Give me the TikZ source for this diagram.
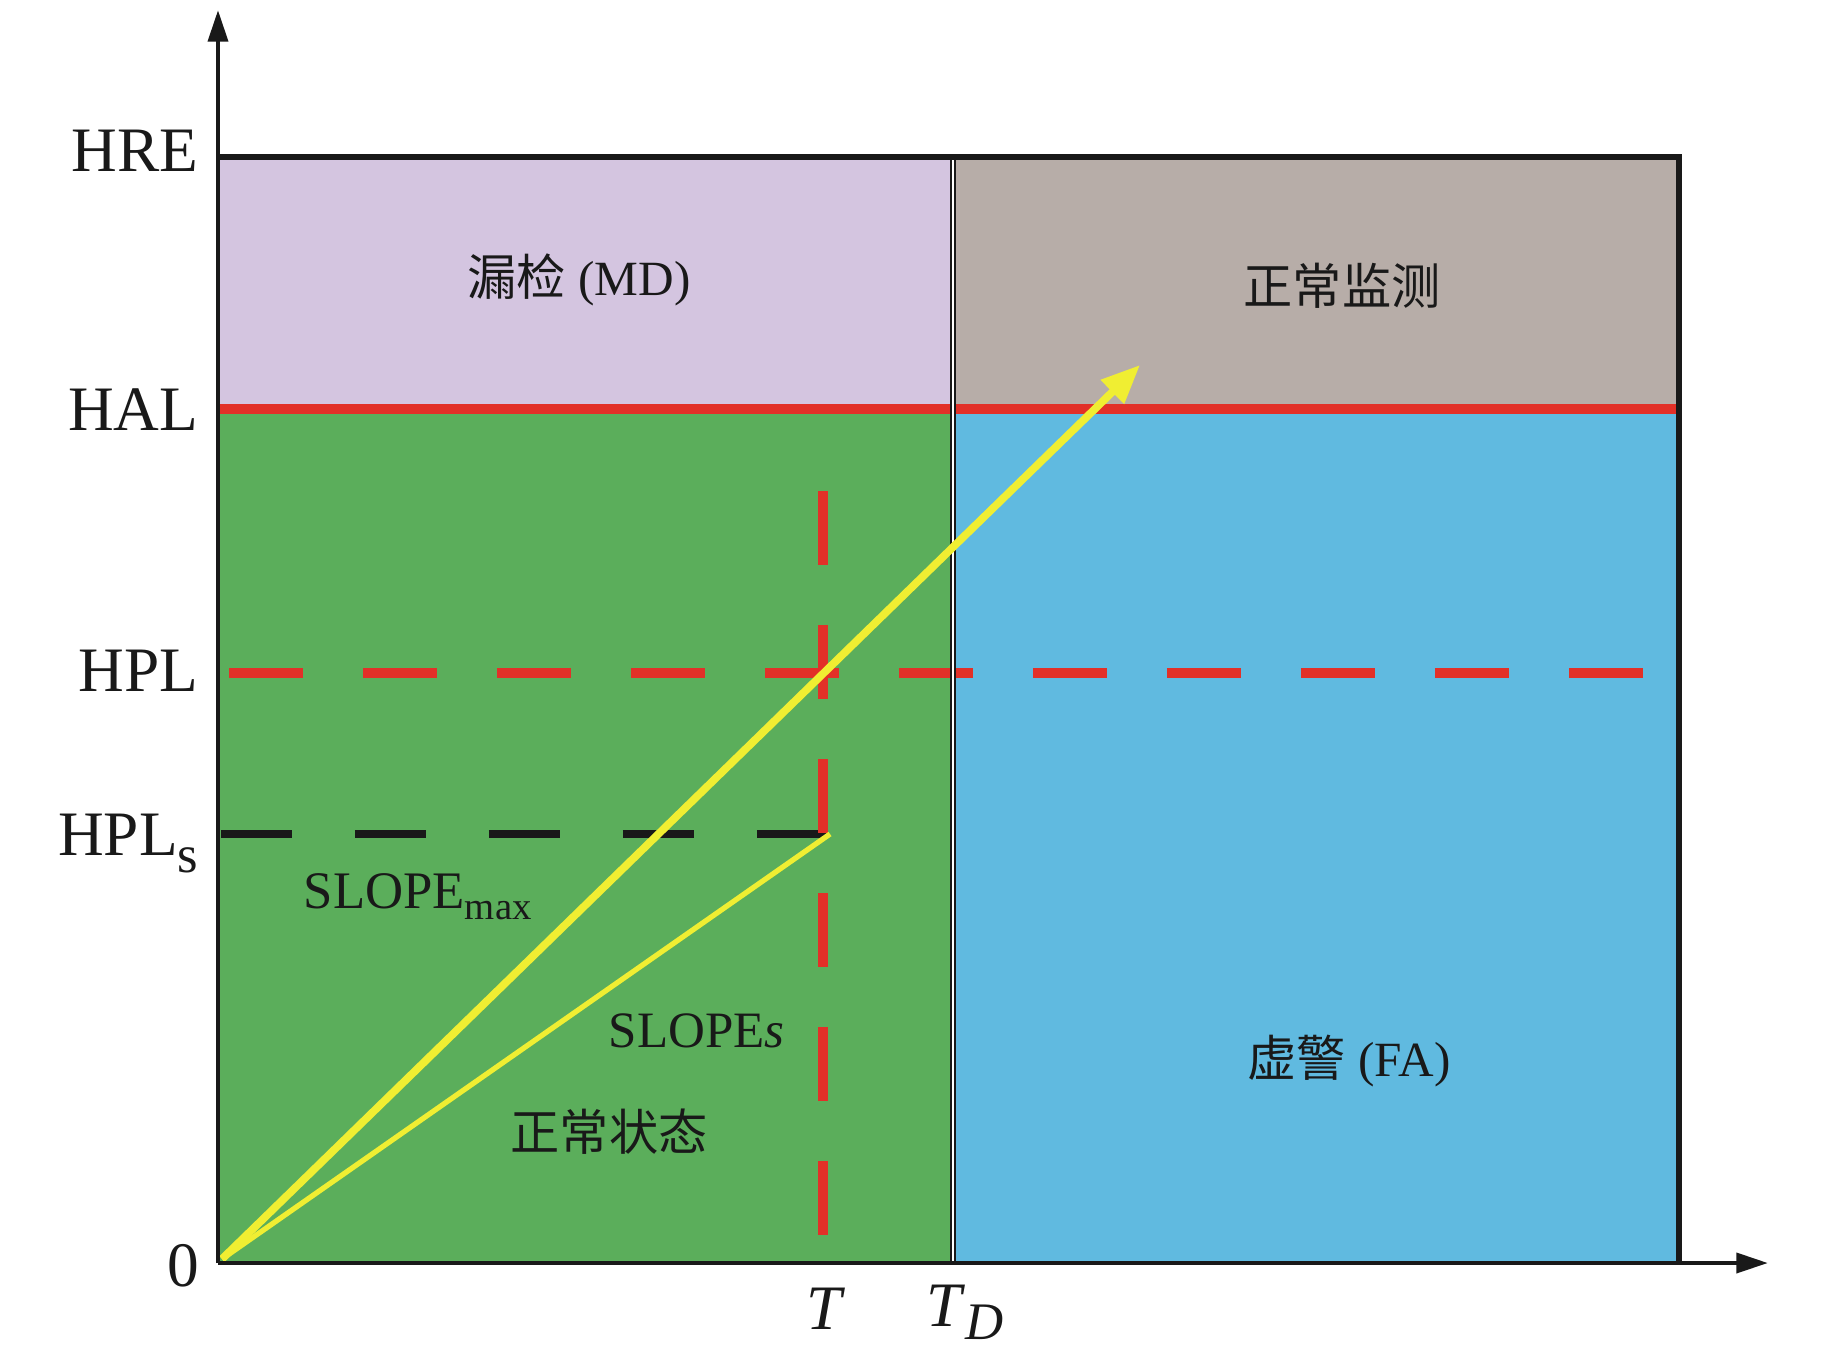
\documentclass[tikz,border=0pt]{standalone}
\usepackage{fontspec}
\setmainfont{Liberation Serif}
\newfontfamily\cjk{Noto Sans CJK SC}
\usetikzlibrary{arrows.meta}
\definecolor{lav}{RGB}{212,197,224}
\definecolor{taupe}{RGB}{183,173,168}
\definecolor{grn}{RGB}{91,174,91}
\definecolor{blu}{RGB}{96,186,224}
\definecolor{redl}{RGB}{226,48,40}
\definecolor{yel}{RGB}{240,238,50}
\definecolor{ink}{RGB}{25,25,25}
\tikzset{
  axislbl/.style={font=\fontsize{18}{20}\selectfont, inner sep=0pt, text=ink},
  regionlbl/.style={font=\fontsize{14}{16}\selectfont, inner sep=0pt, text=ink},
  axisline/.style={draw=ink, line width=1.3pt, -{Triangle[length=9pt,width=5.6pt]}},
  borderline/.style={draw=ink, line width=1.5pt},
  redsolid/.style={draw=redl, line width=2.8pt},
  reddash/.style={draw=redl, line width=2.8pt, dash pattern=on 21pt off 17.1pt},
  blackdash/.style={draw=ink, line width=2.1pt, dash pattern=on 20.2pt off 17.9pt},
  tdline/.style={draw=ink, line width=0.45pt, double=white, double distance=0.6pt},
  yelarrow/.style={draw=yel, line width=2.2pt, -{Triangle[length=11pt,width=9pt]}},
  yelline/.style={draw=yel, line width=1.5pt}
}
\begin{document}
\begin{tikzpicture}[x=0.01cm,y=-0.01cm]
\useasboundingbox (0,0) rectangle (1843,1346);
% key points
\coordinate (O) at (218,1263);
\coordinate (Ytop) at (218,10);
\coordinate (Xend) at (1768,1263);
\coordinate (TL) at (218,157);
\coordinate (TR) at (1679,157);
\coordinate (BR) at (1679,1263);
\coordinate (HALl) at (218,409);
\coordinate (HALr) at (1679,409);
\coordinate (TDt) at (953,157);
\coordinate (TDm) at (953,409);
\coordinate (TDb) at (953,1263);
\coordinate (HPLl) at (229,673);
\coordinate (HPLr) at (1650,673);
\coordinate (HPLsl) at (221,834);
\coordinate (HPLsr) at (830,834);
\coordinate (Tt) at (823,491);
\coordinate (Tb) at (823,1236);
\coordinate (Atip) at (1140,365);
\coordinate (O2) at (222,1259);
% regions
\fill[lav] (TL) rectangle (TDm);
\fill[taupe] (TDt) rectangle (HALr);
\fill[grn] (HALl) rectangle (TDb);
\fill[blu] (TDm) rectangle (BR);
% HAL line
\draw[redsolid] (HALl) -- (HALr);
% dashed lines
\draw[reddash] (HPLl) -- (HPLr);
\draw[blackdash] (HPLsl) -- (HPLsr);
\draw[reddash] (Tt) -- (Tb);
% TD boundary
\draw[tdline] (TDt) -- (TDb);
% slopes
\draw[yelline] (O2) -- (HPLsr);
\draw[yelarrow] (O2) -- (Atip);
% border and axes
\draw[borderline] (TL) -- (TR) -- (BR);
\draw[axisline] (O) -- (Ytop);
\draw[axisline] (O) -- (Xend);
% axis labels
\node[axislbl, anchor=east] (lHRE) at (199,151) {HRE};
\node[axislbl, anchor=east] (lHAL) at (199,410) {HAL};
\node[axislbl, anchor=east] (lHPL) at (199,671) {HPL};
\node[axislbl, anchor=base east] (lHPLs) at (199,855) {HPL\raisebox{-0.28em}{\fontsize{15}{15}\selectfont s}};
\node[axislbl] (l0) at (183,1266) {0};
\node[axislbl] (lT) at (826,1309) {\textit{T}};
\node[axislbl, anchor=base west] (lTD) at (926,1326) {\textit{T}\raisebox{-0.22em}{\fontsize{15}{15}\selectfont\textit{D}}};
% region labels
\node[regionlbl] (lMD) at (579,280) {{\cjk 漏检} (MD)};
\node[regionlbl] (lNM) at (1342,286) {\cjk 正常监测};
\node[regionlbl, anchor=base west] (lSmax) at (303,908) {\fontsize{15}{16}\selectfont SLOPE\raisebox{-0.22em}{\fontsize{11}{11}\selectfont max}};
\node[regionlbl, anchor=base west] (lSs) at (608,1047) {\fontsize{14.5}{16}\selectfont SLOPE\textit{s}};
\node[regionlbl] (lNS) at (609,1132) {\cjk 正常状态};
\node[regionlbl] (lFA) at (1349,1061) {{\cjk 虚警} (FA)};
\end{tikzpicture}
\end{document}
